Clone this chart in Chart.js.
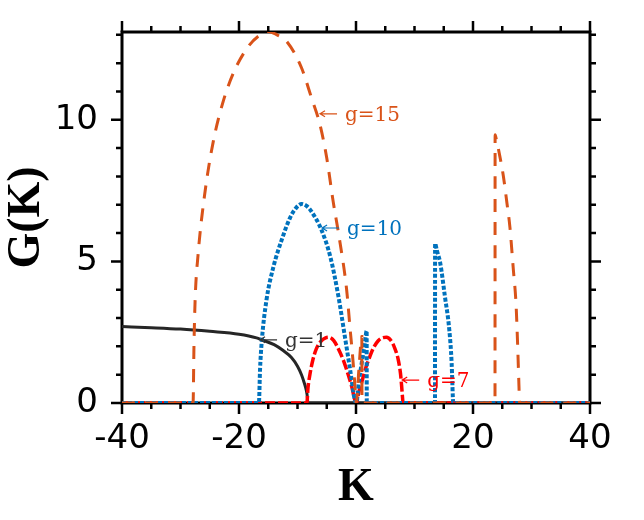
<!DOCTYPE html>
<html><head><meta charset="utf-8">
<script src="https://cdn.jsdelivr.net/npm/chart.js@4.4.0/dist/chart.umd.min.js"></script>
<style>html,body{margin:0;padding:0;background:#fff;}canvas{display:block;}</style>
</head><body>
<canvas id="c" width="644" height="520" style="width:644px;height:520px"></canvas>
<script>
// ---- data ----
const g1K = [-40,-35,-30,-25,-20,-17,-16,-14,-12.5,-11,-10,-9.3,-8.8,-8.5,-8.3,-8.25,0,40];
const g1G = [2.70,2.66,2.61,2.53,2.43,2.30,2.22,2.06,1.86,1.60,1.30,0.99,0.68,0.45,0.18,0,0,0];

const g7K = [-40,-8.4,-8.2,-7.9,-7.4,-6.8,-6.0,-5.2,-4.6,-3.8,-2.8,-2.0,-1.3,-0.7,-0.25,0.05,0.5,1.0,1.6,2.2,3.0,3.8,4.6,5.2,6.0,6.6,7.2,7.6,7.8,7.95,8.05,40];
const g7G = [0,0,0.55,0.98,1.5,1.9,2.18,2.30,2.32,2.2,1.82,1.42,0.98,0.55,0.15,0,0.4,0.75,1.2,1.55,1.95,2.2,2.31,2.32,2.2,1.95,1.55,1.05,0.6,0.2,0,0];

const g10K = [-40,-16.6,-16.4,-16.1,-15.3,-14.1,-12.7,-11.3,-10.2,-9.3,-8.4,-7.6,-5.9,-4.4,-3.0,-1.9,-1.0,-0.2,0.05,0.5,1.0,1.5,1.82,1.84,13.5,13.52,13.8,14.4,15.2,15.95,16.35,16.55,16.6,40];
const g10G = [0,0,1.2,2.2,3.64,4.82,5.76,6.53,6.9,7.03,6.95,6.76,6.11,5.17,3.76,2.34,1.17,0.1,0,0.75,1.45,2.1,2.55,0,0,5.64,5.4,4.94,3.76,2.58,1.4,0.22,0,0];

const g15K = [-40,-27.85,-27.7,-27.5,-27.0,-25.8,-24.4,-22.7,-20.7,-18.4,-16.5,-15.0,-13.5,-11.85,-9.3,-7.6,-6.15,-5.0,-3.9,-2.85,-1.6,-1.0,-0.6,-0.25,0.05,0.5,1.0,1.02,23.76,23.78,24.0,24.6,25.2,25.8,26.3,26.9,27.35,27.6,27.86,27.95,40];
const g15G = [0,0,2.0,3.64,5.23,7.47,9.23,10.65,11.77,12.59,12.98,13.12,13.0,12.77,11.83,10.77,9.82,8.65,7.11,5.82,4.0,2.6,1.7,0.8,0,1.2,2.35,0,0,9.47,9.3,8.70,8.0,7.06,6.23,4.7,3.52,2.23,0.58,0,0];

const seriesNames = ['g=15','g=10','g=7','g=1'];
const annLabels = ['g=15','g=10','g=1','g=7'];
const annTipK = [-6.15,-5.8,-16.4,7.9];
const annTipG = [10.21,6.18,2.23,0.81];

const xMin = -40, xMax = 40, xStep = 5, xMajor = 20;
const yMin = 0, yMax = 13.1, yStep = 1, yMajor = 5;

const colOrange = '#D95319', colBlue = '#0072BD', colRed = '#FF0000', colBlack = '#262626';
const annColors = [colOrange, colBlue, '#333333', colRed];

function pts(K, G){ return K.map((k,i)=>({x:k, y:G[i]})); }

const framePlugin = {
  id:'frame',
  beforeDatasetsDraw(chart){
    const {ctx, chartArea:a, scales:{x, y}} = chart;
    ctx.save();
    ctx.strokeStyle = '#000'; ctx.lineWidth = 2.5; ctx.lineCap = 'butt';
    ctx.beginPath();
    x.ticks.forEach(t=>{
      const p = x.getPixelForValue(t.value);
      const L = (Math.abs(t.value % xMajor) < 1e-9) ? 11 : 6;
      ctx.moveTo(p, a.bottom); ctx.lineTo(p, a.bottom + L);
      ctx.moveTo(p, a.top); ctx.lineTo(p, a.top - L);
    });
    y.ticks.forEach(t=>{
      const p = y.getPixelForValue(t.value);
      const L = (Math.abs(t.value % yMajor) < 1e-9) ? 11 : 6;
      ctx.moveTo(a.left, p); ctx.lineTo(a.left - L, p);
      ctx.moveTo(a.right, p); ctx.lineTo(a.right + L, p);
    });
    ctx.stroke();
    ctx.lineWidth = 3;
    ctx.strokeRect(a.left, a.top, a.right - a.left, a.bottom - a.top);
    ctx.restore();
  },
  afterDatasetsDraw(chart){
    const {ctx, scales:{x, y}} = chart;
    ctx.save();
    annLabels.forEach((lab, i)=>{
      const tx = x.getPixelForValue(annTipK[i]);
      const ty = y.getPixelForValue(annTipG[i]);
      const c = annColors[i];
      ctx.strokeStyle = c; ctx.fillStyle = c; ctx.lineWidth = 1.2;
      ctx.beginPath();
      ctx.moveTo(tx, ty); ctx.lineTo(tx + 17, ty);
      ctx.moveTo(tx + 5, ty - 3); ctx.lineTo(tx, ty); ctx.lineTo(tx + 5, ty + 3);
      ctx.stroke();
      ctx.font = '20px "DejaVu Serif"';
      ctx.textAlign = 'left'; ctx.textBaseline = 'alphabetic';
      ctx.fillText(lab, tx + 25, ty + 7);
    });
    ctx.restore();
  }
};

new Chart(document.getElementById('c'), {
  type: 'line',
  data: {
    datasets: [
      {label: seriesNames[0], data: pts(g15K, g15G), borderColor: colOrange, borderWidth: 3, borderDash: [13,10]},
      {label: seriesNames[1], data: pts(g10K, g10G), borderColor: colBlue, borderWidth: 4, borderDash: [4,2]},
      {label: seriesNames[2], data: pts(g7K, g7G), borderColor: colRed, borderWidth: 3.5, borderDash: [10,3]},
      {label: seriesNames[3], data: pts(g1K, g1G), borderColor: colBlack, borderWidth: 3}
    ].map(d=>Object.assign(d, {pointRadius:0, fill:false, cubicInterpolationMode:'monotone', borderCapStyle:'butt'}))
  },
  options: {
    responsive: false, animation: false, devicePixelRatio: 1,
    layout: {padding: {left: 0, top: 32, right: 54, bottom: 0}},
    plugins: {legend: {display: false}, tooltip: {enabled: false}},
    scales: {
      x: {
        type: 'linear', min: xMin, max: xMax,
        afterFit: s => { s.height = 117; s.paddingLeft = 0; s.paddingRight = 0; },
        grid: {display: false, drawTicks: false},
        border: {display: false},
        ticks: {stepSize: xStep, autoSkip: false, includeBounds: false, maxRotation: 0, padding: 16,
          color: '#000', font: {family: '"DejaVu Sans"', size: 34},
          callback: v => (Math.abs(v % xMajor) < 1e-9) ? String(v) : ''},
        title: {display: true, text: 'K', color: '#000', padding: {top: 0, bottom: 9},
          font: {family: '"Liberation Serif"', size: 46, weight: 'bold', lineHeight: 1}}
      },
      y: {
        type: 'linear', min: yMin, max: yMax,
        afterFit: s => { s.width = 122; s.paddingTop = 0; s.paddingBottom = 0; },
        grid: {display: false, drawTicks: false},
        border: {display: false},
        ticks: {stepSize: yStep, autoSkip: false, includeBounds: false, padding: 24,
          color: '#000', font: {family: '"DejaVu Sans"', size: 34},
          callback: v => (Math.abs(v % yMajor) < 1e-9) ? String(v) : ''},
        title: {display: true, text: 'G(K)', color: '#000', padding: {top: 4, bottom: 0},
          font: {family: '"Liberation Serif"', size: 46, weight: 'bold', lineHeight: 1}}
      }
    }
  },
  plugins: [framePlugin]
});
</script>
</body></html>
